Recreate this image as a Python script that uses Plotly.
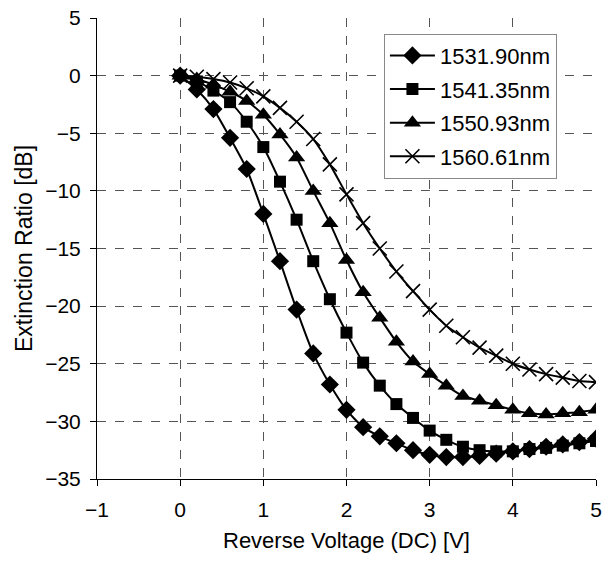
import plotly.graph_objects as go

voltage = [0.0, 0.2, 0.4, 0.6, 0.8, 1.0, 1.2, 1.4, 1.6, 1.8, 2.0, 2.2, 2.4,
           2.6, 2.8, 3.0, 3.2, 3.4, 3.6, 3.8, 4.0, 4.2, 4.4, 4.6, 4.8, 5.0]

er_1531 = [0.0, -1.2, -2.9, -5.4, -8.1, -12.0, -16.1, -20.3, -24.1, -26.8, -29.0, -30.5,
           -31.3, -31.9, -32.5, -32.9, -33.1, -33.1, -33.0, -32.8, -32.6, -32.4, -32.2,
           -32.0, -31.8, -31.5]
er_1541 = [0.0, -0.5, -1.3, -2.3, -4.0, -6.2, -9.2, -12.5, -16.1, -19.4, -22.3, -24.9,
           -26.9, -28.5, -29.7, -30.8, -31.6, -32.2, -32.5, -32.6, -32.6, -32.4, -32.3,
           -32.1, -31.9, -31.7]
er_1550 = [0.0, -0.3, -0.8, -1.4, -2.2, -3.4, -5.1, -7.1, -10.0, -12.8, -16.0, -18.8,
           -21.0, -23.1, -24.8, -25.9, -26.9, -27.8, -28.2, -28.6, -29.0, -29.3, -29.4,
           -29.3, -29.2, -29.0]
er_1560 = [0.0, -0.1, -0.3, -0.6, -1.1, -1.8, -2.8, -4.0, -5.5, -7.7, -10.3, -12.8,
           -15.0, -17.0, -18.7, -20.3, -21.7, -22.7, -23.6, -24.3, -25.0, -25.5, -25.9,
           -26.2, -26.5, -26.6]

series = [
    ("1531.90nm", er_1531, "diamond", 14),
    ("1541.35nm", er_1541, "square", 12),
    ("1550.93nm", er_1550, "triangle-up", 15),
    ("1560.61nm", er_1560, "x-thin", 14),
]

x_ticks = [-1, 0, 1, 2, 3, 4, 5]
y_ticks = [5, 0, -5, -10, -15, -20, -25, -30, -35]

fig = go.Figure()
for i, (name, vals, sym, size) in enumerate(series):
    marker = dict(symbol=sym, size=size, color="black")
    if sym == "x-thin":
        marker["line"] = dict(width=1.6, color="black")
    fig.add_trace(go.Scatter(
        x=voltage, y=vals, name=name, mode="lines+markers",
        line=dict(color="black", width=2, shape="spline", smoothing=0.6),
        marker=marker, legendgroup=f"g{i}",
    ))

font_family = "Liberation Sans, Arial, sans-serif"
fig.update_layout(
    width=605, height=564,
    margin=dict(l=97, r=9, t=18, b=85),
    paper_bgcolor="white", plot_bgcolor="white",
    font=dict(family=font_family, size=21, color="black"),
    showlegend=True,
    legend=dict(
        x=0.575, y=0.966, xanchor="left", yanchor="top",
        bgcolor="white", bordercolor="#888888", borderwidth=1,
        font=dict(size=22), tracegroupgap=2, itemwidth=45,
    ),
    xaxis=dict(
        range=[-1, 5], tickvals=x_ticks, ticks="outside", ticklen=6,
        tickcolor="black", showline=True, linecolor="black", linewidth=1,
        showgrid=True, gridcolor="#555555", griddash="dash", gridwidth=1,
        zeroline=False, automargin=False, ticklabelstandoff=6,
        title=dict(text="Reverse Voltage (DC) [V]", font=dict(size=22), standoff=12),
        tickfont=dict(size=21),
    ),
    yaxis=dict(
        range=[-35, 5], tickvals=y_ticks, ticks="outside", ticklen=6,
        tickcolor="black", showline=True, linecolor="black", linewidth=1,
        showgrid=True, gridcolor="#555555", griddash="dash", gridwidth=1,
        zeroline=False, automargin=False, ticklabelstandoff=5,
        title=dict(text="Extinction Ratio [dB]", font=dict(size=23), standoff=6),
        tickfont=dict(size=21),
    ),
)

fig.write_html("out.html", config={"displayModeBar": False},
               post_script="document.body.style.margin='0';")
